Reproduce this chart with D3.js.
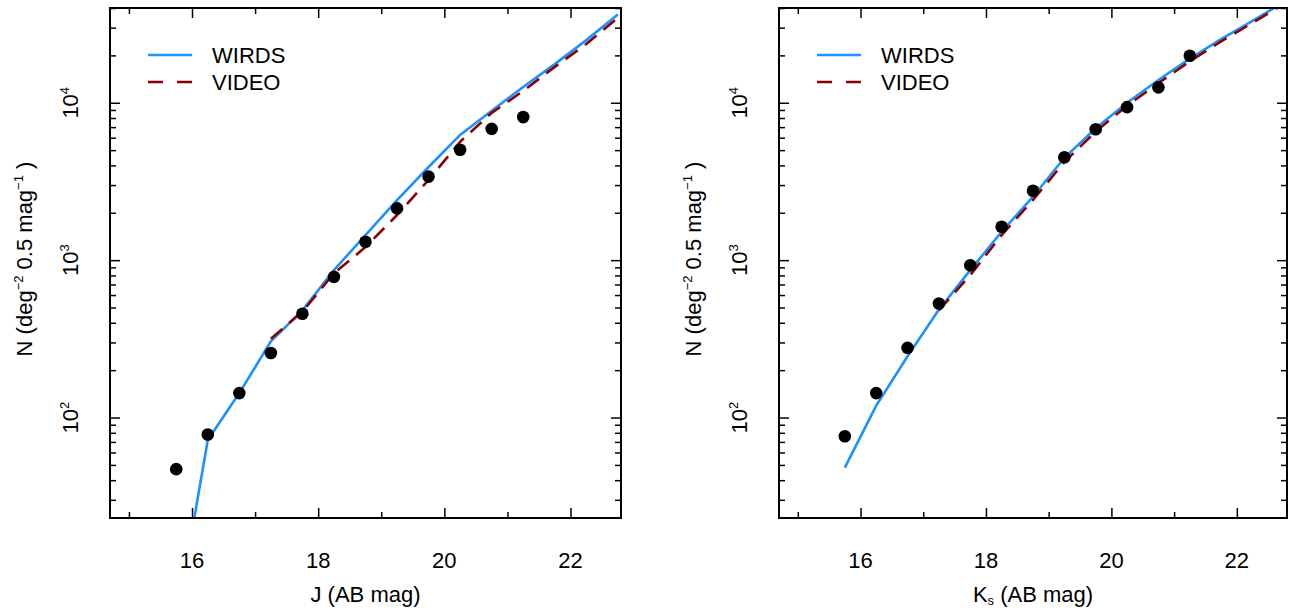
<!DOCTYPE html>
<html>
<head>
<meta charset="utf-8">
<script src="https://cdn.jsdelivr.net/npm/d3@7"></script>
<style>
  body { margin: 0; background: #fff; }
  text { font-family: "Liberation Sans", Arial, Helvetica, sans-serif; fill: #000; }
</style>
</head>
<body>
<div id="container"></div>
<script>
// Chart dimensions
const width = 1294;
const height = 614;
const marginTop = 8;
const plotBottom = 518;

// ---- data ----
// observed counts (black dots), half-magnitude bins
const pointMags = [15.75, 16.25, 16.75, 17.25, 17.75, 18.25, 18.75, 19.25, 19.75, 20.25, 20.75, 21.25];
const pointsJ = [47, 78, 143, 257, 457, 783, 1308, 2133, 3396, 5024, 6825, 8110];
const pointsK = [76, 143, 277, 530, 929, 1630, 2760, 4508, 6790, 9380, 12530, 19900];

// WIRDS counts (solid blue)
const wirdsMags = [15.75, 16.25, 16.75, 17.25, 17.75, 18.25, 18.75, 19.25, 19.75, 20.25, 20.75, 21.25, 21.75, 22.25, 22.75];
const wirdsJ = [5, 72, 143, 305, 480, 864, 1443, 2410, 3908, 6250, 8900, 12600, 17600, 25000, 36400];
const wirdsK = [48, 119, 245, 485, 864, 1515, 2530, 4470, 6880, 10000, 13960, 19050, 25400, 33100, 43600];

// VIDEO counts (dashed dark red)
const videoMags = [17.25, 17.75, 18.25, 18.75, 19.25, 19.75, 20.25, 20.75, 21.25, 21.75, 22.25, 22.75];
const videoJ = [317, 470, 826, 1211, 1935, 3236, 5650, 8630, 11900, 16900, 23600, 34700];
const videoK = [480, 804, 1444, 2410, 4200, 6560, 9570, 13340, 18320, 24550, 32200, 42500];

const xMajor = [16, 18, 20, 22];
const xMinor = [15, 17, 19, 21];
const yMajor = [100, 1000, 10000];
const yMajorExp = ["2", "3", "4"];
const legendNames = ["WIRDS", "VIDEO"];

const blue = "#1E90FF";
const red = "#8B0000";

const svg = d3.create("svg").attr("width", width).attr("height", height);
document.getElementById("container").appendChild(svg.node());

// minor tick values for the log axis (2..9 of each decade)
const yMinor = [];
[10, 100, 1000, 10000].forEach(dec => {
  for (let k = 2; k <= 9; k++) yMinor.push(dec * k);
});

const drawPanel = (id, left, right, points, wirds, video, xTitle, xSub) => {
  const x = d3.scaleLinear().domain([14.7, 22.8]).range([left, right]);
  const y = d3.scaleLog().domain([23, 40000]).range([plotBottom, marginTop]);
  const [y0, y1] = y.domain();
  const yMinorIn = yMinor.filter(v => v > y0 && v <= y1);

  const g = svg.append("g");

  g.append("clipPath").attr("id", "clip" + id)
    .append("rect")
    .attr("x", left).attr("y", marginTop)
    .attr("width", right - left).attr("height", plotBottom - marginTop);

  // ticks on all four sides, pointing inward
  const tickAxis = (axis, tf) => {
    const a = g.append("g").attr("transform", tf).call(axis);
    a.select(".domain").remove();
    a.selectAll("text").remove();
    a.selectAll("line").attr("stroke", "#000").attr("stroke-width", 1.5);
  };
  tickAxis(d3.axisBottom(x).tickValues(xMajor).tickSize(-10), `translate(0,${plotBottom})`);
  tickAxis(d3.axisBottom(x).tickValues(xMinor).tickSize(-6), `translate(0,${plotBottom})`);
  tickAxis(d3.axisTop(x).tickValues(xMajor).tickSize(-10), `translate(0,${marginTop})`);
  tickAxis(d3.axisTop(x).tickValues(xMinor).tickSize(-6), `translate(0,${marginTop})`);
  tickAxis(d3.axisLeft(y).tickValues(yMajor).tickSize(-10), `translate(${left},0)`);
  tickAxis(d3.axisLeft(y).tickValues(yMinorIn).tickSize(-6), `translate(${left},0)`);
  tickAxis(d3.axisRight(y).tickValues(yMajor).tickSize(-10), `translate(${right},0)`);
  tickAxis(d3.axisRight(y).tickValues(yMinorIn).tickSize(-6), `translate(${right},0)`);

  // x tick labels
  g.selectAll("text.xl").data(xMajor).enter().append("text")
    .attr("class", "xl")
    .attr("x", d => x(d)).attr("y", 568)
    .attr("text-anchor", "middle")
    .attr("font-size", 22)
    .text(d => d);

  // y tick labels (rotated, 10^n)
  yMajor.forEach((v, i) => {
    const t = g.append("text")
      .attr("transform", `translate(${left - 32},${y(v)}) rotate(-90)`)
      .attr("text-anchor", "middle")
      .attr("font-size", 22);
    t.append("tspan").text("10");
    t.append("tspan").attr("font-size", 13).attr("dy", -9).text(yMajorExp[i]);
  });

  // axis titles
  const xt = g.append("text")
    .attr("x", (left + right) / 2).attr("y", 602)
    .attr("text-anchor", "middle")
    .attr("font-size", 22);
  xt.append("tspan").text(xTitle);
  if (xSub) {
    xt.append("tspan").attr("font-size", 13).attr("dy", 3).text(xSub);
    xt.append("tspan").attr("dy", -3).text(" (AB mag)");
  } else {
    xt.append("tspan").text(" (AB mag)");
  }

  const yt = g.append("text")
    .attr("transform", `translate(${left - 78},259) rotate(-90)`)
    .attr("text-anchor", "middle")
    .attr("font-size", 22);
  yt.append("tspan").text("N (deg");
  yt.append("tspan").attr("font-size", 13).attr("dy", -9).text("\u22122");
  yt.append("tspan").attr("dy", 9).text(" 0.5 mag");
  yt.append("tspan").attr("font-size", 13).attr("dy", -9).text("\u22121");
  yt.append("tspan").attr("dy", 9).text(" )");

  // curves
  const line = d3.line().x(d => x(d[0])).y(d => y(d[1]));
  const plot = g.append("g").attr("clip-path", `url(#clip${id})`);

  plot.append("path")
    .datum(wirdsMags.map((m, i) => [m, wirds[i]]))
    .attr("fill", "none")
    .attr("stroke", blue)
    .attr("stroke-width", 2.6)
    .attr("d", line);

  plot.append("path")
    .datum(videoMags.map((m, i) => [m, video[i]]))
    .attr("fill", "none")
    .attr("stroke", red)
    .attr("stroke-width", 2.6)
    .attr("stroke-dasharray", "15,9")
    .attr("d", line);

  plot.selectAll("circle")
    .data(pointMags.map((m, i) => [m, points[i]]))
    .enter()
    .append("circle")
    .attr("cx", d => x(d[0]))
    .attr("cy", d => y(d[1]))
    .attr("r", 6.3)
    .attr("fill", "#000");

  // legend
  const lx = left + 38;
  [55, 82].forEach((ly, i) => {
    g.append("line")
      .attr("x1", lx).attr("x2", lx + 44)
      .attr("y1", ly).attr("y2", ly)
      .attr("stroke", i === 0 ? blue : red)
      .attr("stroke-width", 2.6)
      .attr("stroke-dasharray", i === 0 ? null : "15,14");
    g.append("text")
      .attr("x", lx + 64).attr("y", ly + 8)
      .attr("font-size", 22)
      .text(legendNames[i]);
  });

  // frame
  g.append("rect")
    .attr("x", left).attr("y", marginTop)
    .attr("width", right - left).attr("height", plotBottom - marginTop)
    .attr("fill", "none")
    .attr("stroke", "#000")
    .attr("stroke-width", 2);
};

drawPanel("J", 110, 621, pointsJ, wirdsJ, videoJ, "J", null);
drawPanel("K", 779, 1287, pointsK, wirdsK, videoK, "K", "s");
</script>
</body>
</html>
